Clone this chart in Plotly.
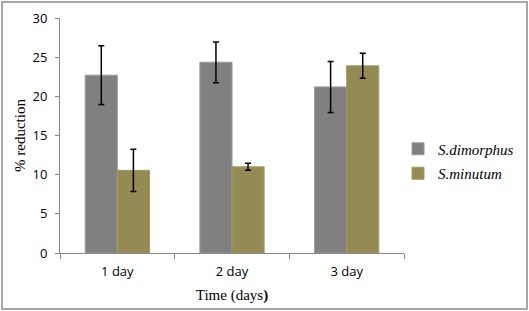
import plotly.graph_objects as go

categories = ["1 day", "2 day", "3 day"]
dimorphus = [22.7, 24.35, 21.2]
dimorphus_err = [3.75, 2.6, 3.25]
minutum = [10.55, 11.0, 23.9]
minutum_err = [2.7, 0.45, 1.6]
y_ticks = [0, 5, 10, 15, 20, 25, 30]

tick_font = dict(family="Open Sans, Liberation Sans, sans-serif", size=13, color="#000000")
serif = "Liberation Serif, Times New Roman, serif"

fig = go.Figure()
fig.add_trace(go.Bar(
    x=categories, y=dimorphus, name="<i>S.dimorphus</i>",
    marker=dict(color="#808080", line=dict(color="#9a9a9a", width=1)),
    error_y=dict(type="data", array=dimorphus_err, color="#000000", thickness=1.5, width=3),
    legendgroup="a",
))
fig.add_trace(go.Bar(
    x=categories, y=minutum, name="<i>S.minutum</i>",
    marker=dict(color="#948A54", line=dict(color="#a39a5e", width=1)),
    error_y=dict(type="data", array=minutum_err, color="#000000", thickness=1.5, width=3),
    legendgroup="b",
))

fig.update_layout(
    width=529, height=311,
    margin=dict(l=60, r=125, t=18, b=58, autoexpand=False),
    paper_bgcolor="white", plot_bgcolor="white",
    barmode="group", bargap=0.44, bargroupgap=0,
    showlegend=True,
    legend=dict(
        x=(398 - 60) / 344, xanchor="left", y=(253 - 161) / 235, yanchor="middle",
        font=dict(family=serif, size=15, color="#000000"),
        traceorder="grouped", tracegroupgap=2, itemwidth=30,
        bgcolor="rgba(0,0,0,0)",
    ),
    xaxis=dict(
        type="category", showline=True, linecolor="#868686", linewidth=1,
        ticks="outside", tickson="boundaries", ticklen=5, tickcolor="#868686",
        tickfont=tick_font, showgrid=False, ticklabelstandoff=6,
        title=dict(text="Time (days<b>)</b>", font=dict(family=serif, size=15, color="#000000"), standoff=10),
    ),
    yaxis=dict(
        range=[0, 30], tickvals=y_ticks, showline=True, linecolor="#868686", linewidth=1,
        ticks="outside", ticklen=4, tickcolor="#868686", tickfont=tick_font,
        showgrid=False, zeroline=False, ticklabelstandoff=5,
        title=dict(text="% reduction", font=dict(family=serif, size=15, color="#000000"), standoff=3),
    ),
    shapes=[dict(
        type="rect", xref="paper", yref="paper",
        x0=(2 - 60) / 344, x1=(527 - 60) / 344,
        y0=(253 - 309) / 235, y1=(253 - 2) / 235,
        line=dict(color="#8c8c8c", width=1.5), fillcolor="rgba(0,0,0,0)", layer="below",
    )],
)

fig.write_html("out.html", post_script="document.body.style.margin='0';",
               config={"displayModeBar": False})
